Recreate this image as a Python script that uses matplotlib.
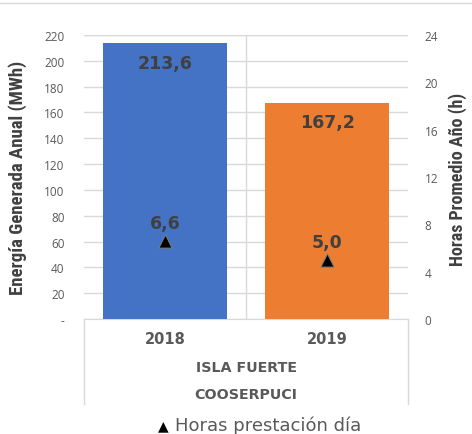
import matplotlib
matplotlib.use("Agg")
import matplotlib.pyplot as plt
from matplotlib.lines import Line2D

years = ["2018", "2019"]
energy = [213.6, 167.2]
hours = [6.6, 5.0]
bar_colors = ["#4472C4", "#ED7D31"]
left_ticks = list(range(0, 221, 20))
left_tick_labels = ["-"] + [str(v) for v in left_ticks[1:]]
right_ticks = [0, 4, 8, 12, 16, 20, 24]
group1 = "ISLA FUERTE"
group2 = "COOSERPUCI"
legend_label = "Horas prestación día"
ylabel_left = "Energía Generada Anual (MWh)"
ylabel_right = "Horas Promedio Año (h)"

narrow = ["Liberation Sans Narrow", "Roboto Condensed", "DejaVu Sans"]
plt.rcParams['font.family'] = ["Open Sans", "DejaVu Sans"]

W, H = 472, 435
fig = plt.figure(figsize=(W/100, H/100), dpi=100)
L, R, T, B = 84, 408, 36, 320
ax = fig.add_axes([L/W, 1-B/H, (R-L)/W, (B-T)/H])
ax2 = ax.twinx()

grid_c = "#D9D9D9"
txt_c = "#595959"
val_c = "#404040"

x = [0, 1]
ax.bar(x, energy, width=0.76, color=bar_colors, zorder=3)
ax.set_xlim(-0.5, 1.5)
ax.set_ylim(0, 220)
ax.set_yticks(left_ticks)
ax.set_yticklabels(left_tick_labels)
ax.yaxis.grid(True, color=grid_c, lw=1, zorder=0)
ax.axvline(0.5, color=grid_c, lw=1, zorder=0)
ax.axhline(220, color=grid_c, lw=1, zorder=0)
for s in ax.spines.values():
    s.set_visible(False)
for s in ax2.spines.values():
    s.set_visible(False)
ax.spines['bottom'].set_visible(True)
ax.spines['bottom'].set_color(grid_c)
ax.tick_params(axis='y', length=0, labelsize=8.5, colors=txt_c, pad=14)
ax.tick_params(axis='x', length=0, labelbottom=False)

ax2.set_ylim(0, 24)
ax2.set_yticks(right_ticks)
ax2.tick_params(axis='y', length=0, labelsize=8.5, colors=txt_c, pad=12)
ax2.scatter(x, hours, marker="^", s=90, color="black", edgecolors="#7F7F7F", linewidths=0.7, zorder=5)

for xi, v in zip(x, energy):
    ax.text(xi, v - 8, f"{v:.1f}".replace(".", ","), ha="center", va="top",
            fontsize=12.5, fontweight="bold", color=val_c, family="DejaVu Sans", zorder=6)
for xi, h in zip(x, hours):
    ax2.text(xi, h + 0.75, f"{h:.1f}".replace(".", ","), ha="center", va="bottom",
             fontsize=12.5, fontweight="bold", color=val_c, family="DejaVu Sans", zorder=6)

# category axis
for xi, yr in zip(x, years):
    fig.text((L + (R-L)*(xi+0.5)/2)/W, 1-340/H, yr, ha="center", va="center",
             fontsize=10.5, fontweight="bold", color=txt_c, family="DejaVu Sans")
fig.text((L+R)/2/W, 1-368/H, group1, ha="center", va="center", fontsize=10.3,
         fontweight="bold", color=txt_c, family="DejaVu Sans")
fig.text((L+R)/2/W, 1-395/H, group2, ha="center", va="center", fontsize=10.3,
         fontweight="bold", color=txt_c, family="DejaVu Sans")
for xp in (L, R):
    fig.add_artist(Line2D([xp/W, xp/W], [1-B/H, 1-405/H], color=grid_c, lw=1))

# top border
fig.add_artist(Line2D([0, 1], [1-4/H, 1-4/H], color=grid_c, lw=1))

fig.text(18/W, 1-178/H, ylabel_left, rotation=90, ha="center", va="center",
         fontsize=13.5, fontweight="bold", color=val_c, family=narrow)
fig.text(458/W, 1-179/H, ylabel_right, rotation=90, ha="center", va="center",
         fontsize=13, fontweight="bold", color=val_c, family=narrow)

# legend
fig.text(163/W, 1-426/H, "▲", ha="center", va="center", fontsize=10, color="black", family="DejaVu Sans")
fig.text(175/W, 1-426/H, legend_label, ha="left", va="center", fontsize=13, color=txt_c, family="DejaVu Sans")

fig.savefig("out.png", dpi=100)
